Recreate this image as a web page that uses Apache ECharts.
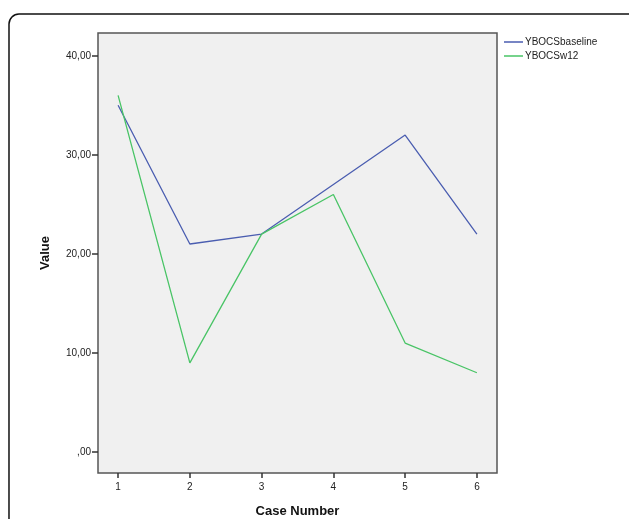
<!DOCTYPE html>
<html><head><meta charset="utf-8">
<script src="https://cdn.jsdelivr.net/npm/echarts@6/dist/echarts.min.js"></script>
<style>html,body{margin:0;padding:0;background:#fff}#c{width:629px;height:519px}</style>
</head><body><div id="c"></div>
<script>
const categories = [1, 2, 3, 4, 5, 6];
const ybocsBaseline = [35, 21, 22, 27, 32, 22];
const ybocsW12 = [36, 9, 22, 26, 11, 8];
const yTicks = [0, 10, 20, 30, 40];
const seriesNames = ['YBOCSbaseline', 'YBOCSw12'];

const chart = echarts.init(document.getElementById('c'));
const fmt = v => v === 0 ? ',00' : v.toFixed(2).replace('.', ',');
const font = 'Liberation Sans, Arial, sans-serif';
chart.setOption({
  animation: false,
  backgroundColor: '#fff',
  graphic: [{
    type: 'rect', silent: true,
    shape: { x: 9, y: 14, width: 640, height: 530, r: 10 },
    style: { fill: 'none', stroke: '#111', lineWidth: 1.5 }
  }],
  grid: { left: 98, top: 33, width: 399, height: 440, show: true,
          containLabel: false, outerBoundsMode: 'none',
          backgroundColor: '#f0f0f0', borderColor: '#555', borderWidth: 1.5 },
  legend: {
    orient: 'vertical', left: 499, top: 32, itemGap: 4,
    itemWidth: 19, itemHeight: 1.5, icon: 'rect',
    textStyle: { fontSize: 10, fontFamily: font, color: '#222', padding: [0, 0, 0, -3] },
    data: seriesNames
  },
  xAxis: {
    type: 'value', min: 0.72, max: 6.28,
    name: 'Case Number', nameLocation: 'middle', nameGap: 32,
    nameTextStyle: { fontSize: 13, fontWeight: 'bold', fontFamily: font, color: '#111' },
    axisLine: { show: false, onZero: false },
    axisTick: { show: true, length: 5, customValues: categories, lineStyle: { color: '#333', width: 1.5 } },
    axisLabel: { customValues: categories, fontSize: 10, fontFamily: font, color: '#222', margin: 9 },
    splitLine: { show: false }
  },
  yAxis: {
    type: 'value', min: -2.12, max: 42.3,
    name: 'Value', nameLocation: 'middle', nameGap: 46,
    nameTextStyle: { fontSize: 13, fontWeight: 'bold', fontFamily: font, color: '#111' },
    axisLine: { show: false, onZero: false },
    axisTick: { show: true, length: 6, customValues: yTicks, lineStyle: { color: '#333', width: 1.5 } },
    axisLabel: { customValues: yTicks, fontSize: 10, fontFamily: font, color: '#222', margin: 7, formatter: fmt },
    splitLine: { show: false }
  },
  series: [
    { name: seriesNames[0], type: 'line', symbol: 'none', color: '#4a5db0',
      lineStyle: { width: 1.3 }, data: categories.map((c, i) => [c, ybocsBaseline[i]]) },
    { name: seriesNames[1], type: 'line', symbol: 'none', color: '#49c466',
      lineStyle: { width: 1.3 }, data: categories.map((c, i) => [c, ybocsW12[i]]) }
  ]
});
</script></body></html>
